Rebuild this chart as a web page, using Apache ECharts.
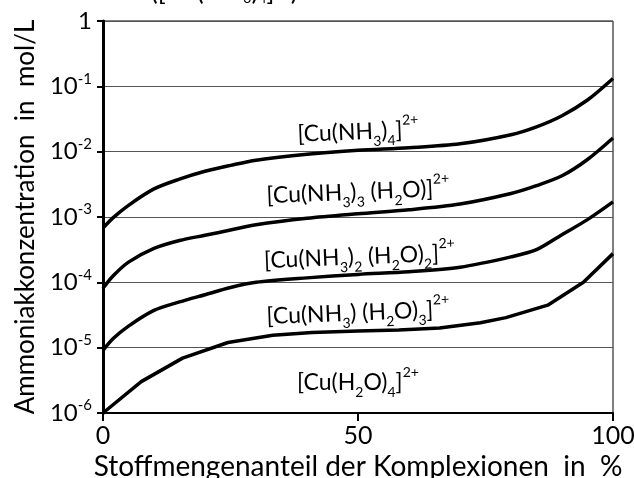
<!DOCTYPE html>
<html>
<head>
<meta charset="UTF-8">
<title>Ammoniakkonzentration</title>
<script src="https://cdn.jsdelivr.net/npm/echarts@6/dist/echarts.min.js"></script>
<style>
  html, body { margin: 0; padding: 0; background: #fff; }
  #main { width: 634px; height: 478px; }
</style>
</head>
<body>
<div id="main"></div>
<script type="text/javascript">
// x-Werte (Stoffmengenanteil in %) fuer die drei glatten Kurven
var xSmooth = [0, 2, 5, 10, 15, 20, 25, 30, 40, 50, 60, 70, 80, 85, 90, 95, 100];
// Ammoniakkonzentration in mol/L
var cuNH3_4 = [6.76e-4, 9.77e-4, 1.51e-3, 2.69e-3, 3.80e-3, 5.01e-3, 6.17e-3, 7.41e-3, 9.12e-3,
               1.05e-2, 1.15e-2, 1.32e-2, 1.82e-2, 2.40e-2, 3.55e-2, 6.17e-2, 0.132];
var cuNH3_3 = [8.1e-5, 1.26e-4, 2.04e-4, 3.31e-4, 4.37e-4, 5.25e-4, 6.31e-4, 7.59e-4, 9.55e-4,
               1.12e-3, 1.29e-3, 1.58e-3, 2.29e-3, 3.02e-3, 4.27e-3, 7.59e-3, 1.62e-2];
var cuNH3_2 = [9.1e-6, 1.38e-5, 2.14e-5, 3.72e-5, 5.01e-5, 6.46e-5, 8.32e-5, 1.0e-4, 1.17e-4,
               1.32e-4, 1.45e-4, 1.70e-4, 2.45e-4, 3.16e-4, 5.37e-4, 9.12e-4, 1.70e-3];
// unterste Kurve (Polygonzug)
var xLow = [0, 7.5, 15.6, 24.5, 33.3, 41, 50, 58, 66, 74, 79, 87.2, 94.2, 100];
var cuNH3_1 = [1.0e-6, 3.02e-6, 6.92e-6, 1.20e-5, 1.55e-5, 1.70e-5, 1.80e-5, 1.86e-5, 2.00e-5,
               2.40e-5, 2.88e-5, 4.47e-5, 1.0e-4, 2.75e-4];

var xTicks = [0, 50, 100];

// Beschriftungen der Bereiche (Ankerpunkt in Datenkoordinaten)
var labelTexts = [
  '[Cu(NH{s|3}){s|4}]{p|2+}',
  '[Cu(NH{s|3}){s|3} (H{s|2}O)]{p|2+}',
  '[Cu(NH{s|3}){s|2} (H{s|2}O){s|2}]{p|2+}',
  '[Cu(NH{s|3}) (H{s|2}O){s|3}]{p|2+}',
  '[Cu(H{s|2}O){s|4}]{p|2+}'
];
var labelX = [50, 50, 50.3, 50, 50];
var labelY = [2.0e-2, 2.4e-3, 2.45e-4, 3.4e-5, 2.9e-6];
var labelRot = [0.04, 0.04, 0.04, 0.04, 0];

function pairs(xs, ys) {
  return xs.map(function (x, i) { return [x, ys[i]]; });
}

var FONT = 'Lato, "Noto Sans", sans-serif';
var chart = echarts.init(document.getElementById('main'));
var lineStyle = { color: '#000', width: 3.5 };

var option = {
  animation: false,
  backgroundColor: '#fff',
  textStyle: { fontFamily: FONT, color: '#000' },
  grid: {
    left: 103, right: 21, top: 21, bottom: 65,
    outerBoundsMode: 'none', containLabel: false,
    show: true, borderColor: '#000', borderWidth: 1
  },
  xAxis: {
    type: 'value', min: 0, max: 100, interval: 50,
    name: 'Stoffmengenanteil der Komplexionen  in  %',
    nameLocation: 'middle', nameGap: 27,
    nameTextStyle: { fontSize: 28, color: '#000', fontFamily: FONT },
    axisLine: { show: true, lineStyle: { color: '#000', width: 2 } },
    axisTick: { show: true, length: 8, lineStyle: { color: '#000', width: 2 } },
    axisLabel: {
      fontSize: 25, color: '#000', margin: 10, fontFamily: FONT,
      formatter: function (v) { return xTicks.indexOf(v) >= 0 ? String(v) : ''; }
    },
    splitLine: { show: false }
  },
  yAxis: {
    type: 'log', logBase: 10, min: 1e-6, max: 1,
    name: 'Ammoniakkonzentration  in  mol/L',
    nameLocation: 'middle', nameGap: 64,
    nameTextStyle: { fontSize: 26, color: '#000', fontFamily: FONT },
    axisLine: { show: true, lineStyle: { color: '#000', width: 3 } },
    axisTick: { show: true, length: 6, lineStyle: { color: '#000', width: 2 } },
    axisLabel: {
      margin: 11, color: '#000', fontFamily: FONT,
      formatter: function (v) {
        var e = Math.round(Math.log(v) / Math.LN10);
        return e === 0 ? '{b|1}' : '{b|10}{sup|' + e + '}';
      },
      rich: {
        b: { fontSize: 24, lineHeight: 30, fontFamily: FONT, color: '#000' },
        sup: { fontSize: 15, lineHeight: 16, verticalAlign: 'top', fontFamily: FONT, color: '#000' }
      }
    },
    splitLine: { show: true, lineStyle: { color: '#555', width: 1 } }
  },
  series: [
    { type: 'line', data: pairs(xSmooth, cuNH3_4), smooth: 0.3, showSymbol: false, lineStyle: lineStyle },
    { type: 'line', data: pairs(xSmooth, cuNH3_3), smooth: 0.3, showSymbol: false, lineStyle: lineStyle },
    { type: 'line', data: pairs(xSmooth, cuNH3_2), smooth: 0.3, showSymbol: false, lineStyle: lineStyle },
    { type: 'line', data: pairs(xLow, cuNH3_1), smooth: false, showSymbol: false, lineStyle: lineStyle }
  ]
};
chart.setOption(option);

var richLabel = {
  s: { fontSize: 14, lineHeight: 16, verticalAlign: 'bottom', fontFamily: FONT, fill: '#000' },
  p: { fontSize: 14, lineHeight: 16, verticalAlign: 'top', fontFamily: FONT, fill: '#000' }
};

var graphics = labelTexts.map(function (t, i) {
  var p = chart.convertToPixel({ gridIndex: 0 }, [labelX[i], labelY[i]]);
  return {
    type: 'text', x: p[0], y: p[1], rotation: labelRot[i], z: 100,
    style: {
      text: t, fontSize: 23, lineHeight: 34, fontFamily: FONT, fill: '#000',
      align: 'center', verticalAlign: 'middle', rich: richLabel
    }
  };
});
// abgeschnittener Titel am oberen Rand
graphics.push({
  type: 'text', x: 134, y: 5,
  style: {
    text: 'B([Cu(NH{s|3}){s|4}]{p|2+})', fontSize: 26, lineHeight: 27, fontFamily: FONT, fill: '#000',
    align: 'left', verticalAlign: 'bottom', rich: richLabel
  }
});
chart.setOption({ graphic: graphics });
</script>
</body>
</html>
